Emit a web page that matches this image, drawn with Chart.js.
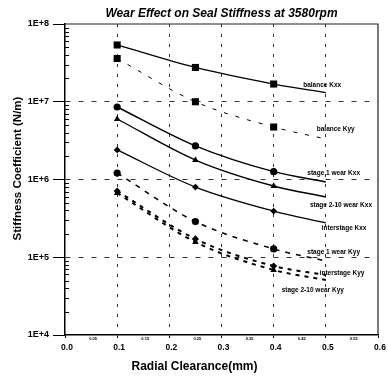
<!DOCTYPE html>
<html>
<head>
<meta charset="utf-8">
<title>Wear Effect on Seal Stiffness at 3580rpm</title>
<script src="https://cdn.jsdelivr.net/npm/chart.js@4.4.1/dist/chart.umd.min.js"></script>
<style>
  html, body { margin: 0; padding: 0; background: #fff; }
  canvas { display: block; }
</style>
</head>
<body>
<canvas id="stiffness" width="388" height="376"></canvas>
<script>
// radial clearance (mm); the last point is only the end of the fitted curve (no marker)
const clearance = [0.1, 0.25, 0.4, 0.5];

// stiffness coefficients (N/m)
const balanceKxx    = [5.37e7, 2.76e7, 1.69e7, 1.31e7];
const balanceKyy    = [3.6e7, 1.0e7, 4.73e6, 3.32e6];
const stage1Kxx     = [8.56e6, 2.70e6, 1.26e6, 9.3e5];
const stage210Kxx   = [6.0e6, 1.78e6, 8.25e5, 5.96e5];
const interstageKxx = [2.40e6, 8.0e5, 3.93e5, 2.76e5];
const stage1Kyy     = [1.21e6, 2.88e5, 1.28e5, 8.95e4];
const interstageKyy = [7.11e5, 1.72e5, 7.72e4, 5.91e4];
const stage210Kyy   = [6.7e5, 1.57e5, 6.86e4, 5.1e4];

const yTickValues = [1e4, 1e5, 1e6, 1e7, 1e8];
const yTickLabels = ['1E+4', '1E+5', '1E+6', '1E+7', '1E+8'];
const xTickValues = [0, 0.05, 0.1, 0.15, 0.2, 0.25, 0.3, 0.35, 0.4, 0.45, 0.5, 0.55, 0.6];
const xTickLabels = ['0.0', '0.05', '0.1', '0.15', '0.2', '0.25', '0.3', '0.35', '0.4', '0.45', '0.5', '0.55', '0.6'];

const FONT = "'Liberation Sans', Arial, sans-serif";
const CLEAR = 'rgba(0,0,0,0)';
Chart.defaults.font.family = FONT;
Chart.defaults.color = '#000';

const pts = (vals) => clearance.map((x, i) => ({ x, y: vals[i] }));

// name, values, marker, marker radius, line width, dash
const series = [
  ['balance Kxx',         balanceKxx,    'rect',     5,   1.3, []],
  ['balance Kyy',         balanceKyy,    'rect',     5,   1,   [4, 8]],
  ['stage 1 wear Kxx',    stage1Kxx,     'circle',   3.6, 1.4, []],
  ['stage 2-10 wear Kxx', stage210Kxx,   'triangle', 3.8, 1.4, []],
  ['interstage Kxx',      interstageKxx, 'rectRot',  3.4, 1.3, []],
  ['stage 1 wear Kyy',    stage1Kyy,     'circle',   3.6, 1.5, [5, 6]],
  ['interstage Kyy',      interstageKyy, 'rectRot',  3.6, 2,   [4, 5]],
  ['stage 2-10 wear Kyy', stage210Kyy,   'triangle', 3.8, 2,   [4, 5]],
];

// where each curve name is written, in data units [clearance, stiffness]
const labelAt = {
  'balance Kxx':         [0.493, 1.64e7],
  'balance Kyy':         [0.519, 4.47e6],
  'stage 1 wear Kxx':    [0.515, 1.21e6],
  'stage 2-10 wear Kxx': [0.529, 4.7e5],
  'interstage Kxx':      [0.535, 2.38e5],
  'stage 1 wear Kyy':    [0.515, 1.17e5],
  'interstage Kyy':      [0.531, 6.27e4],
  'stage 2-10 wear Kyy': [0.475, 3.79e4],
};

const isMajorX = (i) => i % 2 === 0;

const annotate = {
  id: 'annotate',
  beforeDatasetsDraw(chart) {
    const { ctx, chartArea: a } = chart;
    const y = chart.scales.y;
    ctx.save();
    ctx.strokeStyle = '#222';
    ctx.lineWidth = 1.2;
    ctx.beginPath();
    ctx.moveTo(a.left, a.top);
    ctx.lineTo(a.right, a.top);
    ctx.lineTo(a.right, a.bottom);
    ctx.stroke();
    // minor log ticks, pointing into the plot
    ctx.lineWidth = 1;
    ctx.strokeStyle = '#000';
    ctx.beginPath();
    for (let i = 0; i < yTickValues.length - 1; i++) {
      for (let k = 2; k < 10; k++) {
        const py = Math.round(y.getPixelForValue(yTickValues[i] * k)) + 0.5;
        ctx.moveTo(a.left, py);
        ctx.lineTo(a.left + 4, py);
      }
    }
    ctx.stroke();
    ctx.restore();
  },
  afterDatasetsDraw(chart) {
    const { ctx } = chart;
    const { x, y } = chart.scales;
    ctx.save();
    ctx.fillStyle = '#000';
    ctx.font = 'bold 6.5px ' + FONT;
    ctx.textAlign = 'center';
    ctx.textBaseline = 'middle';
    series.forEach(([name]) => {
      const [cx, cy] = labelAt[name];
      ctx.fillText(name, x.getPixelForValue(cx), y.getPixelForValue(cy));
    });
    ctx.restore();
  },
  afterDraw(chart) {
    const { ctx } = chart;
    ctx.save();
    ctx.fillStyle = '#000';
    ctx.textAlign = 'center';
    ctx.textBaseline = 'middle';
    ctx.font = 'bold 12px ' + FONT;
    ctx.fillText('Radial Clearance(mm)', 194.5, 366.5);
    ctx.translate(18, 168.5);
    ctx.rotate(-Math.PI / 2);
    ctx.font = 'bold 11.5px ' + FONT;
    ctx.fillText('Stiffness Coefficient (N/m)', 0, 0);
    ctx.restore();
  },
};

new Chart(document.getElementById('stiffness'), {
  type: 'line',
  data: {
    datasets: series.map(([name, vals, marker, r, w, dash]) => ({
      label: name,
      data: pts(vals),
      borderColor: '#000',
      backgroundColor: '#000',
      borderWidth: w,
      borderDash: dash,
      pointStyle: marker,
      pointRadius: (c) => (c.dataIndex === clearance.length - 1 ? 0 : r),
      pointBorderWidth: 0,
      cubicInterpolationMode: 'monotone',
      fill: false,
    })),
  },
  options: {
    responsive: false,
    animation: false,
    layout: { padding: { top: 0, right: 10, bottom: 0, left: 0 } },
    plugins: {
      legend: { display: false },
      tooltip: { enabled: false },
      title: {
        display: true,
        fullSize: false,
        text: 'Wear Effect on Seal Stiffness at 3580rpm',
        color: '#000',
        font: { size: 12, weight: 'bold', style: 'italic' },
        padding: { top: 6, bottom: 3.6 },
      },
    },
    scales: {
      x: {
        type: 'linear',
        min: 0,
        max: 0.6,
        afterBuildTicks: (s) => { s.ticks = xTickValues.map((v) => ({ value: v })); },
        afterFit: (s) => { s.height = 41; },
        ticks: {
          autoSkip: false,
          maxRotation: 0,
          padding: 0,
          labelOffset: 2,
          callback: (v, i) => (isMajorX(i) ? ['', xTickLabels[i]] : xTickLabels[i]),
          font: (c) => (isMajorX(c.index)
            ? { size: 8.5, weight: 'bold', lineHeight: 0.75 }
            : { size: 4, weight: 'bold', lineHeight: 0.6 }),
        },
        grid: {
          color: (c) => (isMajorX(c.index) && c.index > 0 && c.index < xTickValues.length - 1 ? '#333' : CLEAR),
          lineWidth: 1,
          tickLength: 3,
          tickColor: (c) => (isMajorX(c.index) ? '#000' : CLEAR),
        },
        border: { color: '#000', width: 1.5, dash: [3, 7] },
      },
      y: {
        type: 'logarithmic',
        min: 1e4,
        max: 1e8,
        afterBuildTicks: (s) => { s.ticks = yTickValues.map((v) => ({ value: v })); },
        afterFit: (s) => { s.width = 65; },
        ticks: {
          autoSkip: false,
          padding: 4,
          font: { size: 9, weight: 'bold' },
          callback: (v) => yTickLabels[yTickValues.indexOf(v)] || '',
        },
        grid: {
          color: (c) => (c.index > 0 && c.index < yTickValues.length - 1 ? '#333' : CLEAR),
          lineWidth: 1,
          tickLength: 12,
          tickColor: '#000',
        },
        border: { color: '#000', width: 1.5, dash: [5, 8] },
      },
    },
  },
  plugins: [annotate],
});
</script>
</body>
</html>
